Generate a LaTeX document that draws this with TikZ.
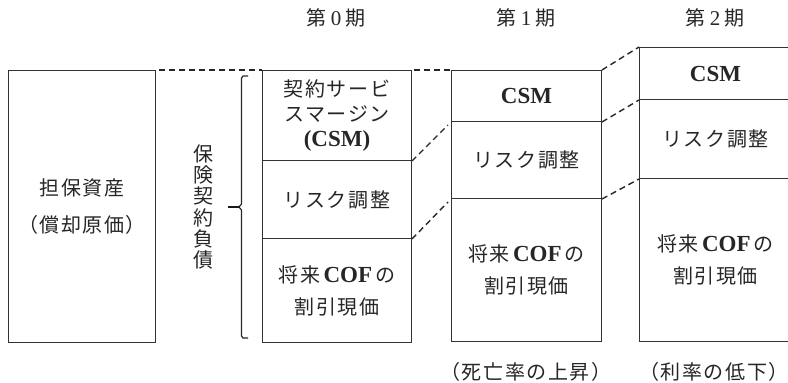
\documentclass[tikz,border=0pt]{standalone}
\usepackage{fontspec}
\usetikzlibrary{calc}
\setmainfont{Liberation Serif}
\newfontfamily\jp[LetterSpace=8]{Noto Sans CJK JP}
\newcommand{\lb}[1]{{\rmfamily\fontsize{23}{23}\selectfont\bfseries #1}}
\begin{document}
\begin{tikzpicture}[x=1pt,y=-1pt,
  ln/.style={draw=black!80, line width=1pt},
  dline/.style={draw=black!85, line width=1.4pt, dash pattern=on 6pt off 4pt},
  cell/.style={ln, rectangle, inner sep=0pt, anchor=north west, align=center,
    text=black!85, font=\jp\fontsize{20}{32}\selectfont},
  lbl/.style={text=black!85, font=\jp\fontsize{20}{24}\selectfont, inner sep=0pt, align=center}
]
\useasboundingbox (0,0) rectangle (788,383);

% left asset box
\node[cell, minimum width=147pt, minimum height=272pt, font=\jp\fontsize{20}{37}\selectfont] (asset) at (8,70) {担保資産\\（償却原価）};

% period 0
\node[cell, minimum width=149pt, minimum height=90pt, font=\jp\fontsize{20}{25}\selectfont] (p0csm) at (262,70) {契約サービ\\スマージン\\\lb{(CSM)}};
\node[cell, minimum width=149pt, minimum height=78pt] (p0ra) at (262,160) {リスク調整};
\node[cell, minimum width=149pt, minimum height=104pt] (p0cof) at (262,238) {将来\,\lb{COF}\,の\\割引現価};

% period 1
\node[cell, minimum width=150pt, minimum height=51pt] (p1csm) at (451,70) {\lb{CSM}};
\node[cell, minimum width=150pt, minimum height=77pt] (p1ra) at (451,121) {リスク調整};
\node[cell, minimum width=150pt, minimum height=143pt] (p1cof) at (451,198) {将来\,\lb{COF}\,の\\割引現価};

% period 2
\node[cell, minimum width=152pt, minimum height=52pt] (p2csm) at (639,47) {\lb{CSM}};
\node[cell, minimum width=152pt, minimum height=79pt] (p2ra) at (639,99) {リスク調整};
\node[cell, minimum width=152pt, minimum height=163pt] (p2cof) at (639,178) {将来\,\lb{COF}\,の\\割引現価};

% headers
\node[lbl] (h0) at (336,18) {第\hspace{4pt}{\rmfamily\fontsize{21}{21}\selectfont 0}\hspace{4pt}期};
\node[lbl] (h1) at (526,18) {第\hspace{4pt}{\rmfamily\fontsize{21}{21}\selectfont 1}\hspace{4pt}期};
\node[lbl] (h2) at (715,18) {第\hspace{4pt}{\rmfamily\fontsize{21}{21}\selectfont 2}\hspace{4pt}期};

% bottom notes
\node[lbl] (n1) at (526,372) {（死亡率の上昇）};
\node[lbl] (n2) at (714,372) {（利率の低下）};

% vertical label
\node[lbl, font=\jp\fontsize{20}{21.2}\selectfont] (liab) at (203,207) {保\\険\\契\\約\\負\\債};

% brace
\coordinate (bt) at (248,76);
\coordinate (bb) at (248,338);
\coordinate (btip) at (228,207);
\draw[draw=black!85, line width=1.2pt] (bt) -- (243,76) -- (241.5,78) -- (241.5,204) -- (239,207) -- (241.5,210) -- (241.5,336) -- (243,338) -- (bb);
\draw[draw=black!90, line width=2pt] (btip) -- (240,207);

% dashed connectors
\draw[dline] ($(asset.north east)+(3,0)$) -- (p0csm.north west);
\draw[dline] ($(p0csm.north east)+(2,0)$) -- (p1csm.north west);
\draw[dline] (p0csm.south east) -- ($(p1csm.south west)+(-3,3)$);
\draw[dline] (p0ra.south east) -- ($(p1ra.south west)+(-3,3)$);
\draw[dline] (p1csm.north east) -- (p2csm.north west);
\draw[dline] (p1csm.south east) -- (p2csm.south west);
\draw[dline] (p1ra.south east) -- (p2ra.south west);
\end{tikzpicture}
\end{document}
